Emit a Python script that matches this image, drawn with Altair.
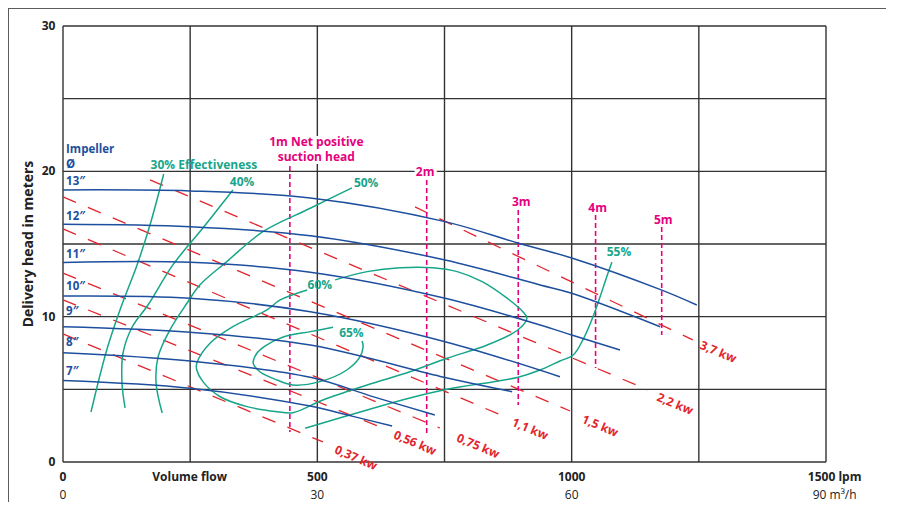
import altair as alt
import pandas as pd

FONT = "Open Sans"
BLUE = "#1d4f9e"
TEAL = "#17a58a"
RED = "#e2252c"
MAGENTA = "#e6007e"
GRID = "#333333"

# ---------------- grid ----------------
grid_q = [0, 250, 500, 750, 1000, 1250, 1500]
grid_h = [0, 5, 10, 15, 20, 25, 30]

# ---------------- impeller curves (flow lpm, head m) ----------------
imp13_q = [0, 250, 486, 751, 894, 1000, 1176, 1246]
imp13_h = [18.72, 18.65, 18.17, 16.54, 15.07, 14.04, 11.84, 10.80]
imp12_q = [0, 250, 486, 751, 938, 1000, 1174]
imp12_h = [16.36, 16.19, 15.57, 13.90, 12.18, 11.61, 9.31]
imp11_q = [0, 250, 486, 751, 938, 1000, 1095]
imp11_h = [13.72, 13.74, 13.06, 11.27, 9.43, 8.74, 7.71]
imp10_q = [0, 250, 486, 751, 977]
imp10_h = [11.42, 11.27, 10.34, 8.28, 5.87]
imp9_q = [0, 250, 486, 751, 883]
imp9_h = [9.31, 8.93, 8.05, 5.82, 4.84]
imp8_q = [0, 250, 486, 609, 731]
imp8_h = [7.52, 6.95, 5.83, 4.50, 3.23]
imp7_q = [0, 250, 486, 564, 647]
imp7_h = [5.60, 5.07, 3.85, 3.19, 2.48]

imp_label_text = ["Impeller", "Ø", "13″", "12″", "11″", "10″", "9″", "8″", "7″"]
imp_label_h = [21.45, 20.45, 19.24, 16.86, 14.25, 12.06, 10.34, 8.22, 6.21]

# ---------------- efficiency curves ----------------
eff30_q = [198, 171, 147, 112, 86, 55]
eff30_h = [19.82, 16.31, 13.70, 10.46, 7.71, 3.44]
eff40_q = [334, 275, 216, 167, 136, 118, 116, 122]
eff40_h = [18.72, 16.10, 13.56, 10.80, 9.29, 7.50, 5.44, 3.72]
eff50_q = [568, 486, 393, 322, 269, 244, 210, 187, 183, 195]
eff50_h = [18.86, 17.46, 15.85, 13.79, 12.18, 10.94, 9.08, 7.25, 5.44, 3.37]
eff55_q = [476, 598, 682, 755, 893, 938, 977, 1003, 1022, 1042, 1056, 1069, 1079]
eff55_h = [2.32, 3.58, 4.40, 5.00, 5.82, 6.33, 6.95, 7.36, 8.40, 10.00, 11.38, 12.75, 13.74]
eff60_q = [480, 427, 401, 334, 289, 263, 263, 275, 309, 362, 421, 452, 511, 598,
           682, 755, 834, 894, 912, 904, 873, 824, 775, 727, 663, 598, 535]
eff60_h = [11.84, 11.15, 10.46, 9.31, 8.17, 6.79, 6.33, 5.53, 4.49, 3.81, 3.46, 3.39,
           4.27, 5.30, 6.21, 7.14, 8.05, 9.08, 9.89, 10.34, 11.27, 12.41, 13.10, 13.37,
           13.37, 13.10, 12.53]
eff65_q = [531, 486, 433, 397, 381, 374, 387, 421, 452, 505, 558, 584, 590, 588]
eff65_h = [9.27, 8.97, 8.60, 7.98, 7.48, 6.79, 6.21, 5.64, 5.30, 5.53, 6.33, 7.25, 7.94, 8.33]

eff_label_text = ["30% Effectiveness", "40%", "50%", "55%", "60%", "65%"]
eff_label_q = [277, 352, 596, 1093, 505, 567]
eff_label_h = [20.47, 19.27, 19.20, 14.42, 12.18, 8.91]

# ---------------- power lines ----------------
power_text = ["0,37 kw", "0,56 kw", "0,75 kw", "1,1 kw", "1,5 kw", "2,2 kw", "3,7 kw"]
power_q0 = [0, 0, 0, 0, 0, 171, 692]
power_h0 = [8.81, 11.15, 13.00, 16.04, 18.24, 19.41, 17.55]
power_q1 = [511, 629, 741, 879, 997, 1150, 1238]
power_h1 = [1.38, 2.34, 2.34, 2.96, 3.51, 4.96, 8.40]
power_label_q = [576, 692, 816, 918, 1056, 1203, 1288]
power_label_h = [0.28, 1.31, 1.10, 2.27, 2.48, 3.99, 7.57]

# ---------------- NPSH lines ----------------
npsh_q = [446, 715, 895, 1047, 1177]
npsh_top = [20.37, 19.40, 17.34, 17.00, 16.17]
npsh_bottom = [2.06, 2.00, 3.92, 6.47, 8.74]
npsh_label_text = ["1m Net positive", "suction head", "2m", "3m", "4m", "5m"]
npsh_label_q = [498, 498, 712, 901, 1051, 1180]
npsh_label_h = [22.05, 20.98, 19.92, 17.90, 17.48, 16.65]

# ---------------- axis texts ----------------
y_tick_values = [0, 10, 20, 30]
x_row1_text = ["0", "500", "1000", "1500 lpm"]
x_row2_text = ["0", "30", "60", "90 m³/h"]
x_label_q = [0, 500, 1000, 1517]

xs = alt.Scale(domain=[0, 1500], nice=False, zero=False)
ys = alt.Scale(domain=[0, 30], nice=False, zero=False)


def X(f):
    return alt.X(f, type="quantitative", scale=xs, axis=None)


def Y(f):
    return alt.Y(f, type="quantitative", scale=ys, axis=None)


def curves(named):
    rows = []
    for name, qs, hs in named:
        for i, (q, h) in enumerate(zip(qs, hs)):
            rows.append({"series": name, "q": q, "h": h, "i": i})
    return pd.DataFrame(rows)


blue_df = curves([
    ("13", imp13_q, imp13_h), ("12", imp12_q, imp12_h), ("11", imp11_q, imp11_h),
    ("10", imp10_q, imp10_h), ("9", imp9_q, imp9_h), ("8", imp8_q, imp8_h),
    ("7", imp7_q, imp7_h),
])
teal_df = curves([
    ("30", eff30_q, eff30_h), ("40", eff40_q, eff40_h), ("50", eff50_q, eff50_h),
    ("55", eff55_q, eff55_h), ("60", eff60_q, eff60_h), ("65", eff65_q, eff65_h),
])

vgrid = pd.DataFrame({"q": grid_q, "h0": 0, "h1": 30})
hgrid = pd.DataFrame({"h": grid_h, "q0": 0, "q1": 1500})

frame_top = alt.Chart(pd.DataFrame({"a": [0]})).mark_rule(color="#5c5c5c", strokeWidth=2).encode(
    x=alt.value(-55), x2=alt.value(823), y=alt.value(-18))
frame_left = alt.Chart(pd.DataFrame({"a": [0]})).mark_rule(color="#5c5c5c", strokeWidth=2).encode(
    x=alt.value(-55), y=alt.value(-18), y2=alt.value(478))

vg = alt.Chart(vgrid).mark_rule(color=GRID, strokeWidth=1.4).encode(
    x=X("q"), y=Y("h0"), y2="h1")
hg = alt.Chart(hgrid).mark_rule(color=GRID, strokeWidth=1.4).encode(
    y=Y("h"), x=X("q0"), x2="q1")

power_df = pd.DataFrame({"q0": power_q0, "h0": power_h0, "q1": power_q1, "h1": power_h1})
power = alt.Chart(power_df).mark_rule(color=RED, strokeWidth=1.3, strokeDash=[14, 13]).encode(
    x=X("q0"), y=Y("h0"), x2="q1", y2="h1")

npsh_df = pd.DataFrame({"q": npsh_q, "top": npsh_top, "bottom": npsh_bottom})
npsh = alt.Chart(npsh_df).mark_rule(color=MAGENTA, strokeWidth=1.6, strokeDash=[5, 3]).encode(
    x=X("q"), y=Y("top"), y2="bottom")

teal = alt.Chart(teal_df).mark_line(color=TEAL, strokeWidth=1.5, interpolate="catmull-rom").encode(
    x=X("q"), y=Y("h"), detail="series:N", order="i:Q")
blue = alt.Chart(blue_df).mark_line(color=BLUE, strokeWidth=1.5, interpolate="catmull-rom").encode(
    x=X("q"), y=Y("h"), detail="series:N", order="i:Q")

imp_lab_df = pd.DataFrame({"t": imp_label_text, "h": imp_label_h, "q": 6})
imp_lab = alt.Chart(imp_lab_df).mark_text(font=FONT, fontSize=11.5, fontWeight="bold", color=BLUE,
                                          align="left", baseline="middle").encode(
    x=X("q"), y=Y("h"), text="t:N")

eff_lab_df = pd.DataFrame({"t": eff_label_text, "q": eff_label_q, "h": eff_label_h})
eff_lab = alt.Chart(eff_lab_df).mark_text(font=FONT, fontSize=12, fontWeight="bold", color=TEAL,
                                          align="center", baseline="middle").encode(
    x=X("q"), y=Y("h"), text="t:N")

pow_lab_df = pd.DataFrame({"t": power_text, "q": power_label_q, "h": power_label_h})
pow_lab = alt.Chart(pow_lab_df).mark_text(font=FONT, fontSize=12, fontWeight="bold", color=RED,
                                          align="center", baseline="middle", angle=23).encode(
    x=X("q"), y=Y("h"), text="t:N")

npsh_lab_df = pd.DataFrame({"t": npsh_label_text, "q": npsh_label_q, "h": npsh_label_h})
npsh_halo = alt.Chart(npsh_lab_df).mark_text(font=FONT, fontSize=12, fontWeight="bold", color="white",
                                             stroke="white", strokeWidth=6,
                                             align="center", baseline="middle").encode(
    x=X("q"), y=Y("h"), text="t:N")
npsh_lab = alt.Chart(npsh_lab_df).mark_text(font=FONT, fontSize=12, fontWeight="bold", color=MAGENTA,
                                            align="center", baseline="middle").encode(
    x=X("q"), y=Y("h"), text="t:N")

ytick_df = pd.DataFrame({"h": y_tick_values, "t": [str(v) for v in y_tick_values], "q": -15})
ytick = alt.Chart(ytick_df).mark_text(font=FONT, fontSize=12, fontWeight="bold", color="#222",
                                      align="right", baseline="middle").encode(
    x=X("q"), y=Y("h"), text="t:N")

ytitle = alt.Chart(pd.DataFrame({"t": ["Delivery head in meters"], "q": [-66], "h": [15.0]})).mark_text(
    font=FONT, fontSize=14, fontWeight="bold", color="#222", angle=270,
    align="center", baseline="middle").encode(x=X("q"), y=Y("h"), text="t:N")

xrow1_df = pd.DataFrame({"t": x_row1_text + ["Volume flow"], "q": x_label_q + [249], "h": -1.0})
xrow1 = alt.Chart(xrow1_df).mark_text(font=FONT, fontSize=12, fontWeight="bold", color="#222",
                                      align="center", baseline="middle").encode(
    x=X("q"), y=Y("h"), text="t:N")
xrow2_df = pd.DataFrame({"t": x_row2_text, "q": x_label_q, "h": -2.24})
xrow2 = alt.Chart(xrow2_df).mark_text(font=FONT, fontSize=12, color="#222",
                                      align="center", baseline="middle").encode(
    x=X("q"), y=Y("h"), text="t:N")

chart = alt.layer(
    frame_top, frame_left, vg, hg, power, npsh, teal, blue,
    imp_lab, eff_lab, pow_lab, npsh_halo, npsh_lab, ytick, ytitle, xrow1, xrow2,
).properties(
    width=763, height=436,
    autosize=alt.AutoSizeParams(type="none"),
    padding={"left": 55, "top": 18, "right": 60, "bottom": 40},
    background="white",
).configure_view(stroke=None)

chart.save("out.html", embed_options={"renderer": "svg", "actions": False})
